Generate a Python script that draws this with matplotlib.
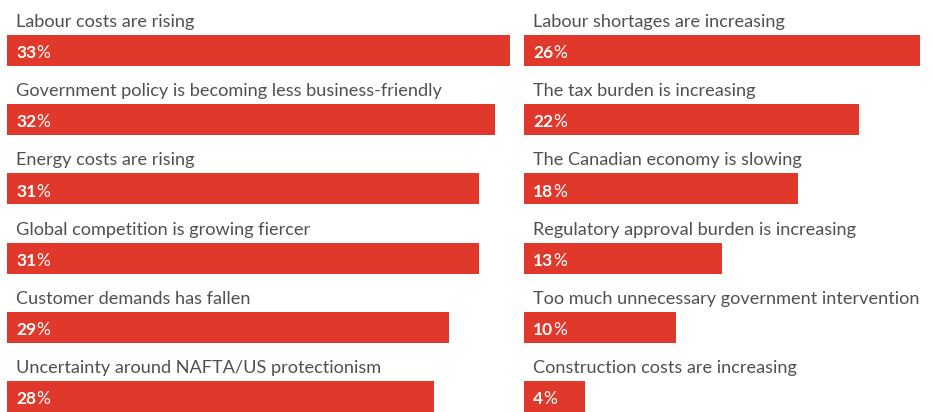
import numpy as np
import matplotlib.pyplot as plt

left_labels = [
    "Labour costs are rising",
    "Government policy is becoming less business-friendly",
    "Energy costs are rising",
    "Global competition is growing fiercer",
    "Customer demands has fallen",
    "Uncertainty around NAFTA/US protectionism",
]
left_values = [33, 32, 31, 31, 29, 28]

right_labels = [
    "Labour shortages are increasing",
    "The tax burden is increasing",
    "The Canadian economy is slowing",
    "Regulatory approval burden is increasing",
    "Too much unnecessary government intervention",
    "Construction costs are increasing",
]
right_values = [26, 22, 18, 13, 10, 4]

RED = "#e0382a"
GREY = "#505050"
FONT = "Lato"

W, H = 932, 412
PX_PER_PCT = 15.24
XMAX = 36

fig = plt.figure(figsize=(W / 100, H / 100), dpi=100)


def draw_column(x0, labels, values):
    ax = fig.add_axes([x0 / W, 0, XMAX * PX_PER_PCT / W, 1])
    y = np.arange(len(values))
    ax.barh(y, values, height=0.448, color=RED, left=0)
    ax.set_xlim(0, XMAX)
    ax.set_ylim(5.224, -0.730)
    ax.axis("off")
    for yi, lab, v in zip(y, labels, values):
        ax.annotate(lab, xy=(0, yi - 0.34), xytext=(6.5, 0), textcoords="offset points",
                    ha="left", va="baseline", fontsize=13.1, color=GREY,
                    family=FONT, fontweight="normal", annotation_clip=False)
        t = ax.annotate(str(v), xy=(0, yi + 0.11), xytext=(6.5, 0), textcoords="offset points",
                        ha="left", va="baseline", fontsize=12.5, color="white",
                        family=FONT, fontweight="bold")
        ax.annotate("%", xy=(1, 0), xycoords=t, xytext=(0, 0), textcoords="offset points",
                    ha="left", va="bottom", fontsize=12.5, color="white",
                    family=FONT, fontweight="normal")


draw_column(7, left_labels, left_values)
draw_column(524, right_labels, right_values)

fig.savefig("out.png", dpi=100)
